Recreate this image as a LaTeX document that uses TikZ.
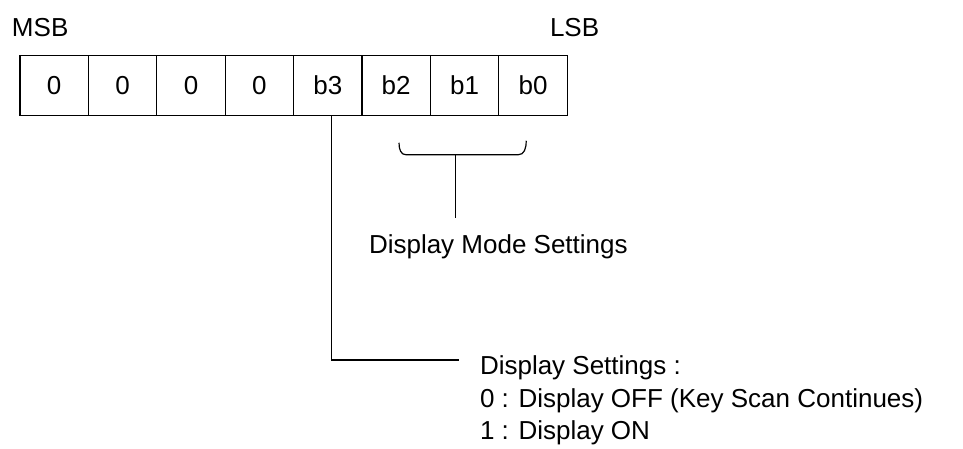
\documentclass[tikz,border=0pt]{standalone}
\usepackage{fontspec}
\setmainfont{Liberation Sans}
\usetikzlibrary{positioning,calc}
\tikzset{
  reg/cell/.style={draw, line width=1.2pt, outer sep=0pt, inner sep=0pt, minimum width=68.4pt, minimum height=60.5pt, font=\fontsize{26}{30}\selectfont},
  reg/label/.style={inner sep=0pt, outer sep=0pt, align=left, font=\fontsize{26}{32.5}\selectfont},
  reg/line/.style={line width=1.2pt}
}

\begin{document}
\begin{tikzpicture}[x=1pt, y=-1pt]
  \useasboundingbox (0,0) rectangle (963,448);
  % register bits, MSB first
  \node[reg/cell] (c7) at (54.2,85.5) {0};
  \node[reg/cell, right=0pt of c7] (c6) {0};
  \node[reg/cell, right=0pt of c6] (c5) {0};
  \node[reg/cell, right=0pt of c5] (c4) {0};
  \node[reg/cell, right=0pt of c4] (c3) {b3};
  \node[reg/cell, right=0pt of c3] (c2) {b2};
  \node[reg/cell, right=0pt of c2] (c1) {b1};
  \node[reg/cell, right=0pt of c1] (c0) {b0};

  \node[reg/label, anchor=base west] (msb) at (12,36) {MSB};
  \node[reg/label, anchor=base west] (lsb) at (550,36) {LSB};

  % b2..b0 brace
  \coordinate (bl) at ($(c2.south west)+(37,27)$);
  \coordinate (br) at ($(c0.south east)+(-41,25)$);
  \coordinate (bm) at ($(c1.south)+(-9,39)$);
  \coordinate (bmend) at ($(bm)+(0,63)$);
  \draw[reg/line] (bl) .. controls +(0,7) and +(-5,0) .. ($(bl |- bm)+(7,0)$)
    -- ($(br |- bm)+(-8,0)$) .. controls +(6,0) and +(0,8) .. (br);
  \draw[reg/line] (bm) -- (bmend);
  \node[reg/label, anchor=base west] (modetxt) at (369,253) {Display Mode Settings};

  % b3 description
  \node[reg/label, anchor=north west] (settxt) at (480,356)
    {Display Settings :\\0 : Display OFF (Key Scan Continues)\\1 : Display ON};
  \coordinate (setend) at ($(settxt.north west)+(-21,4)$);
  \draw[reg/line] ($(c3.south)+(4,0)$) |- (setend);
\end{tikzpicture}
\end{document}
